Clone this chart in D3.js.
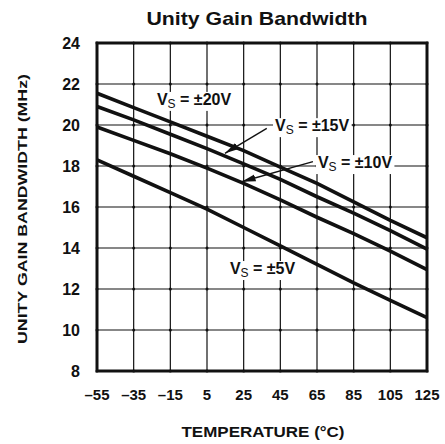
<!DOCTYPE html>
<html>
<head>
<meta charset="utf-8">
<script src="https://cdn.jsdelivr.net/npm/d3@7"></script>
<style>
  html, body { margin: 0; padding: 0; background: #fff; }
  svg text { font-family: "Liberation Sans", Arial, sans-serif; font-weight: bold; fill: #111; }
</style>
</head>
<body>
<svg id="chart" width="445" height="444"></svg>
<script>
// ── Data ─────────────────────────────────────────────────────────────────
const temps = [-55, -35, -15, 5, 25, 45, 65, 85, 105, 125];
const yTicks = [8, 10, 12, 14, 16, 18, 20, 22, 24];

const vs20 = [21.55, 20.85, 20.15, 19.45, 18.75, 17.95, 17.15, 16.25, 15.35, 14.5];
const vs15 = [20.9, 20.25, 19.55, 18.85, 18.1, 17.35, 16.5, 15.7, 14.85, 13.95];
const vs10 = [19.9, 19.25, 18.6, 17.9, 17.15, 16.35, 15.5, 14.7, 13.85, 12.95];
const vs5  = [18.3, 17.5, 16.7, 15.9, 15.0, 14.1, 13.2, 12.3, 11.45, 10.6];

const seriesNames = ['±20V', '±15V', '±10V', '±5V'];
const seriesValues = [vs20, vs15, vs10, vs5];

// label anchor (temp, MHz) and optional arrow [fromT, fromV, toT, toV]
const labelPos = [[-22.3, 20.98], [42.1, 19.7], [65.5, 17.9], [17.5, 12.73]];
const arrows = [null, [37.6, 19.84, 14.8, 18.62], [62.8, 18.21, 23.9, 17.23], null];

// ── Layout ───────────────────────────────────────────────────────────────
const svg = d3.select('#chart');
const L = 97, R = 427, T = 43, B = 371;

const x = d3.scaleLinear().domain([-55, 125]).range([L, R]);
const y = d3.scaleLinear().domain([8, 24]).range([B, T]);

svg.append('defs').append('marker')
  .attr('id', 'arrow').attr('viewBox', '0 -4 14 8').attr('refX', 14).attr('refY', 0)
  .attr('markerWidth', 14).attr('markerHeight', 8).attr('markerUnits', 'userSpaceOnUse').attr('orient', 'auto')
  .append('path').attr('d', 'M0,-3.5L14,0L0,3.5Z').attr('fill', '#111');

// Grid
const grid = svg.append('g');
grid.selectAll('line.v').data(temps).join('line')
  .attr('x1', d => x(d)).attr('x2', d => x(d)).attr('y1', T).attr('y2', B)
  .attr('stroke', '#111').attr('stroke-width', 1.2);
grid.selectAll('line.h').data(yTicks).join('line')
  .attr('y1', d => y(d)).attr('y2', d => y(d)).attr('x1', L).attr('x2', R)
  .attr('stroke', '#111').attr('stroke-width', 1.2);
const pts = [];
temps.forEach(t => yTicks.forEach(v => pts.push([t, v])));
grid.selectAll('circle').data(pts).join('circle')
  .attr('cx', d => x(d[0])).attr('cy', d => y(d[1])).attr('r', 1.5).attr('fill', '#111');

// Series
const line = d3.line().x((d, i) => x(temps[i])).y(d => y(d));
svg.append('g').selectAll('path').data(seriesValues).join('path')
  .attr('d', line).attr('fill', 'none').attr('stroke', '#111').attr('stroke-width', 3.6)
  .attr('stroke-linecap', 'butt');

// Frame
svg.append('rect').attr('x', L).attr('y', T).attr('width', R - L).attr('height', B - T)
  .attr('fill', 'none').attr('stroke', '#111').attr('stroke-width', 3);

// Labels with white backing
const lab = svg.append('g');
seriesNames.forEach((name, i) => {
  const g = lab.append('g');
  const bg = g.append('rect').attr('fill', '#fff');
  const t = g.append('text').attr('x', x(labelPos[i][0])).attr('y', y(labelPos[i][1]))
    .attr('font-size', 16);
  t.append('tspan').text('V');
  t.append('tspan').attr('font-size', 12).attr('dy', 3).attr('font-weight', 'normal').text('S');
  t.append('tspan').attr('dy', -3).text(' = ' + name);
  const bb = t.node().getBBox();
  bg.attr('x', bb.x - 2).attr('y', bb.y + 1).attr('width', bb.width + 4).attr('height', bb.height - 1);
  if (arrows[i]) {
    const a = arrows[i];
    lab.append('line')
      .attr('x1', x(a[0])).attr('y1', y(a[1])).attr('x2', x(a[2])).attr('y2', y(a[3]))
      .attr('stroke', '#111').attr('stroke-width', 1.4).attr('marker-end', 'url(#arrow)');
  }
});

// Tick labels
svg.append('g').selectAll('text').data(yTicks).join('text')
  .attr('x', 80).attr('y', d => y(d) + 5.5).attr('text-anchor', 'end').attr('font-size', 16)
  .text(d => d);
svg.append('g').selectAll('text').data(temps).join('text')
  .attr('x', d => x(d)).attr('y', 400).attr('text-anchor', 'middle').attr('font-size', 15)
  .text(d => d < 0 ? '\u2013' + Math.abs(d) : d);

// Titles
svg.append('text').attr('x', 257).attr('y', 25).attr('text-anchor', 'middle')
  .attr('font-size', 19).attr('textLength', 221).attr('lengthAdjust', 'spacingAndGlyphs')
  .text('Unity Gain Bandwidth');
svg.append('text').attr('x', 263).attr('y', 437).attr('text-anchor', 'middle')
  .attr('font-size', 15).attr('textLength', 163).attr('lengthAdjust', 'spacingAndGlyphs')
  .text('TEMPERATURE (°C)');
svg.append('text').attr('transform', 'translate(27,209) rotate(-90)').attr('text-anchor', 'middle')
  .attr('font-size', 13).attr('textLength', 270).attr('lengthAdjust', 'spacingAndGlyphs')
  .text('UNITY GAIN BANDWIDTH (MHz)');
</script>
</body>
</html>
